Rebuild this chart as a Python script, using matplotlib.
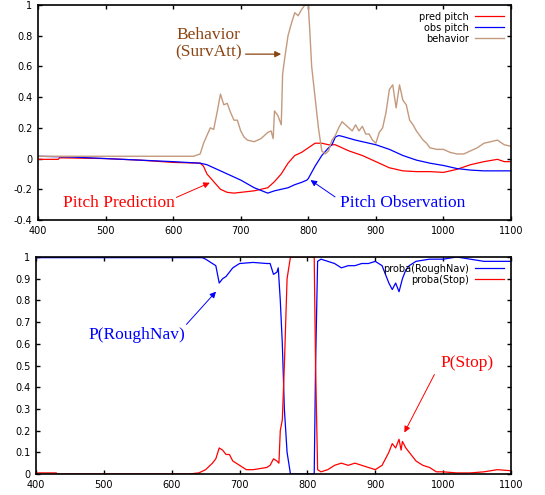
import matplotlib.pyplot as plt
import numpy as np

# top panel: pitch and behaviour
t_beh = [400, 630, 640, 645, 650, 655, 660, 665, 670, 675, 680, 685, 690, 695, 700, 705, 710, 720, 730, 740, 745, 748,
         750, 755, 760, 762, 765, 770, 775, 780, 785, 790, 795, 800, 802, 805, 810, 815, 820, 825, 830, 835, 840, 845,
         850, 855, 860, 865, 870, 875, 880, 885, 890, 895, 900, 905, 910, 915, 920, 925, 930, 935, 940, 945, 950, 955,
         960, 965, 970, 975, 980, 990, 1000, 1010, 1020, 1030, 1040, 1050, 1060, 1070, 1080, 1090, 1100]
behavior = [0.015, 0.015, 0.03, 0.1, 0.15, 0.2, 0.19, 0.3, 0.42, 0.35, 0.36, 0.3, 0.25, 0.25, 0.18, 0.14, 0.12, 0.11,
            0.13, 0.17, 0.18, 0.13, 0.31, 0.28, 0.22, 0.55, 0.65, 0.8, 0.88, 0.95, 0.93, 0.97, 1.0, 1.0, 0.85, 0.6, 0.4,
            0.2, 0.05, 0.03, 0.05, 0.12, 0.15, 0.2, 0.24, 0.22, 0.2, 0.18, 0.22, 0.18, 0.21, 0.16, 0.16, 0.12, 0.1,
            0.17, 0.2, 0.3, 0.45, 0.48, 0.33, 0.48, 0.38, 0.35, 0.25, 0.22, 0.18, 0.15, 0.12, 0.1, 0.07, 0.06, 0.06,
            0.04, 0.03, 0.03, 0.05, 0.07, 0.1, 0.11, 0.12, 0.09, 0.08]

t_obs = [400, 450, 500, 550, 600, 640, 650, 660, 680, 700, 720, 740, 750, 760, 770, 780, 790, 798, 800, 810, 820, 830,
         835, 840, 845, 850, 870, 900, 920, 940, 960, 980, 1000, 1020, 1040, 1060, 1100]
obs_pitch = [0.015, 0.01, 0.0, -0.01, -0.02, -0.03, -0.04, -0.06, -0.1, -0.14, -0.19, -0.225, -0.21, -0.2, -0.19,
             -0.17, -0.155, -0.14, -0.13, -0.05, 0.02, 0.07, 0.09, 0.14, 0.15, 0.145, 0.12, 0.09, 0.06, 0.02, -0.01,
             -0.03, -0.045, -0.065, -0.075, -0.08, -0.08]

t_pred = [400, 430, 432, 500, 550, 600, 640, 645, 650, 660, 670, 680, 690, 700, 720, 740, 750, 760, 770, 780, 790, 800,
          810, 820, 830, 840, 850, 860, 880, 900, 920, 940, 960, 980, 1000, 1020, 1040, 1060, 1080, 1090, 1100]
pred_pitch = [-0.005, -0.005, 0.005, 0.0, -0.01, -0.025, -0.03, -0.05, -0.1, -0.15, -0.2, -0.22, -0.225, -0.22, -0.21,
              -0.19, -0.15, -0.1, -0.03, 0.02, 0.04, 0.07, 0.1, 0.1, 0.09, 0.09, 0.07, 0.05, 0.02, -0.02, -0.06, -0.08,
              -0.085, -0.085, -0.09, -0.07, -0.04, -0.02, -0.005, -0.02, -0.02]

# bottom panel: behaviour probabilities
t_nav = [400, 645, 650, 660, 665, 670, 675, 680, 690, 700, 720, 740, 745, 750, 755, 757, 760, 763, 766, 770, 775, 808,
         810, 812, 815, 820, 830, 840, 850, 860, 870, 880, 890, 900, 910, 915, 920, 925, 930, 935, 940, 945, 950, 960,
         980, 1000, 1020, 1040, 1060, 1080, 1100]
p_roughnav = [0.997, 0.997, 0.99, 0.97, 0.96, 0.88, 0.9, 0.91, 0.95, 0.97, 0.975, 0.97, 0.97, 0.92, 0.93, 0.95, 0.8,
              0.6, 0.3, 0.1, 0.0, 0.0, 0.0, 0.5, 0.98, 0.99, 0.98, 0.97, 0.95, 0.96, 0.96, 0.97, 0.97, 0.98, 0.96,
              0.92, 0.88, 0.85, 0.88, 0.84, 0.9, 0.94, 0.96, 0.98, 0.99, 0.99, 1.0, 0.99, 0.98, 0.98, 0.98]

t_stop = [400, 430, 431, 625, 640, 650, 660, 665, 670, 675, 680, 685, 690, 700, 710, 720, 740, 745, 750, 755, 758, 760,
          763, 766, 770, 775, 808, 810, 812, 815, 820, 830, 840, 850, 860, 870, 880, 890, 900, 910, 920, 925, 930, 935,
          938, 940, 945, 950, 960, 970, 980, 990, 1000, 1020, 1040, 1060, 1080, 1100]
p_stop = [0.005, 0.005, 0.0, 0.0, 0.005, 0.02, 0.05, 0.07, 0.12, 0.11, 0.09, 0.09, 0.06, 0.04, 0.02, 0.02, 0.03, 0.04,
          0.07, 0.06, 0.05, 0.2, 0.25, 0.5, 0.9, 1.0, 1.0, 1.0, 0.5, 0.02, 0.01, 0.02, 0.04, 0.05, 0.04, 0.05, 0.04,
          0.03, 0.02, 0.04, 0.1, 0.14, 0.12, 0.16, 0.11, 0.15, 0.12, 0.1, 0.06, 0.04, 0.03, 0.01, 0.01, 0.005, 0.005,
          0.01, 0.02, 0.015]

x_ticks = [400, 500, 600, 700, 800, 900, 1000, 1100]
top_yticks = [-0.4, -0.2, 0, 0.2, 0.4, 0.6, 0.8, 1]
bot_yticks = [0, 0.1, 0.2, 0.3, 0.4, 0.5, 0.6, 0.7, 0.8, 0.9, 1]

brown = '#8b4513'
tan = '#c49a7e'

fig = plt.figure(figsize=(5.45, 4.95), dpi=100)
ax1 = fig.add_axes([38 / 545, 1 - 220 / 495, (511 - 38) / 545, 215 / 495])
ax2 = fig.add_axes([36 / 545, 1 - 474 / 495, (511 - 36) / 545, 217 / 495])

ax1.plot(t_pred, pred_pitch, color='red', lw=0.9, label='pred pitch')
ax1.plot(t_obs, obs_pitch, color='blue', lw=0.9, label='obs pitch')
ax1.plot(t_beh, behavior, color=tan, lw=1.0, label='behavior')
ax1.set_ylim(-0.4, 1)
ax1.set_yticks(top_yticks)
ax1.set_yticklabels(['-0.4', '-0.2', '0', '0.2', '0.4', '0.6', '0.8', '1'])

ax2.plot(t_nav, p_roughnav, color='blue', lw=0.9, label='proba(RoughNav)')
ax2.plot(t_stop, p_stop, color='red', lw=0.9, label='proba(Stop)')
ax2.set_ylim(0, 1)
ax2.set_yticks(bot_yticks)
ax2.set_yticklabels(['0', '0.1', '0.2', '0.3', '0.4', '0.5', '0.6', '0.7', '0.8', '0.9', '1'])

for ax in (ax1, ax2):
    ax.set_xlim(400, 1100)
    ax.set_xticks(x_ticks)
    ax.tick_params(direction='in', length=3, width=1, labelsize=7, top=True, right=True, pad=4)
    for s in ax.spines.values():
        s.set_linewidth(1.2)
    leg = ax.legend(loc='upper right', frameon=False, markerfirst=False, fontsize=7,
                    handlelength=3, labelspacing=0.1, borderaxespad=0.3, handletextpad=0.6)

serif = 'Liberation Serif'
ax1.text(702, 0.75, 'Behavior\n(SurvAtt)', color=brown, fontsize=12.5, family=serif, ha='right', va='center',
         multialignment='center', linespacing=1.1)
ax1.annotate('', xy=(764, 0.68), xytext=(703, 0.68),
             arrowprops=dict(arrowstyle='-|>', color=brown, lw=0.9, mutation_scale=9))
ax1.text(520, -0.29, 'Pitch Prediction', color='red', fontsize=12.5, family=serif, ha='center', va='center')
ax1.annotate('', xy=(658, -0.15), xytext=(601, -0.26),
             arrowprops=dict(arrowstyle='-|>', color='red', lw=0.7, mutation_scale=9))
ax1.text(940, -0.29, 'Pitch Observation', color='blue', fontsize=12.5, family=serif, ha='center', va='center')
ax1.annotate('', xy=(800, -0.13), xytext=(843, -0.26),
             arrowprops=dict(arrowstyle='-|>', color='blue', lw=0.7, mutation_scale=9))

ax2.text(549, 0.64, 'P(RoughNav)', color='blue', fontsize=12.5, family=serif, ha='center', va='center')
ax2.annotate('', xy=(668, 0.85), xytext=(619, 0.68),
             arrowprops=dict(arrowstyle='-|>', color='blue', lw=0.7, mutation_scale=9))
ax2.text(1035, 0.51, 'P(Stop)', color='red', fontsize=12.5, family=serif, ha='center', va='center')
ax2.annotate('', xy=(941, 0.18), xytext=(989, 0.47),
             arrowprops=dict(arrowstyle='-|>', color='red', lw=0.7, mutation_scale=9))

fig.savefig('out.png', dpi=100)
